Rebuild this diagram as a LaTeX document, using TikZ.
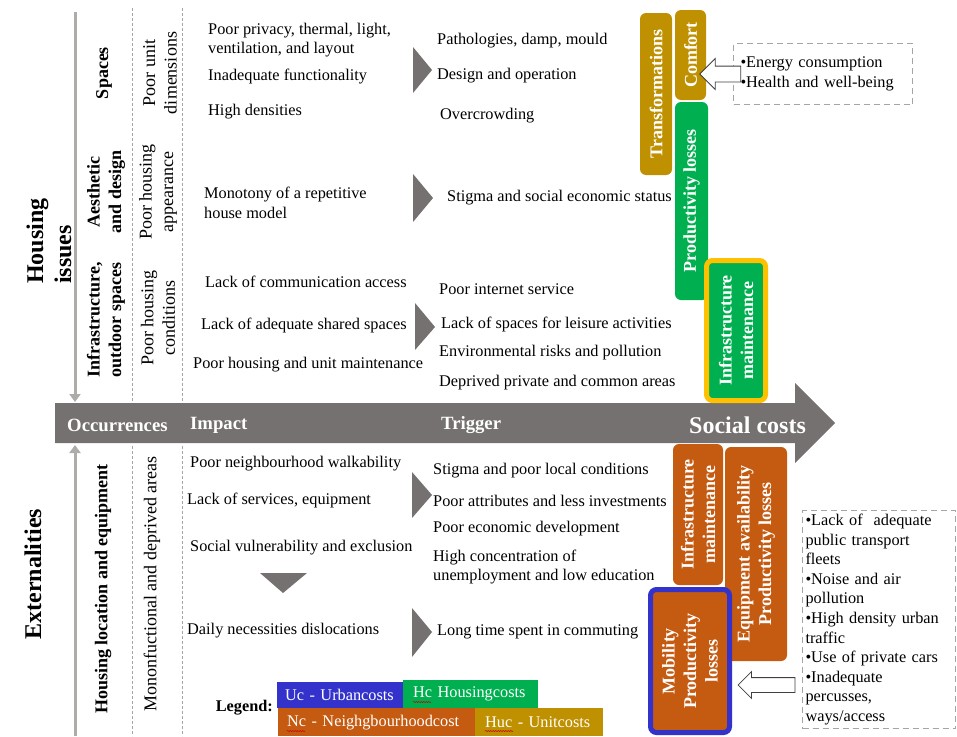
\documentclass[tikz,border=0pt]{standalone}
\usepackage{fontspec}
\setmainfont{Liberation Serif}
\usetikzlibrary{arrows.meta,shapes.arrows,decorations.pathmorphing}

\definecolor{bargray}{RGB}{118,113,113}
\definecolor{axisgray}{RGB}{175,171,171}
\definecolor{sepgray}{RGB}{165,165,165}
\definecolor{costgold}{RGB}{191,144,0}
\definecolor{costgreen}{RGB}{0,176,80}
\definecolor{costorange}{RGB}{197,90,17}
\definecolor{costyellow}{RGB}{255,192,0}
\definecolor{costblue}{RGB}{51,51,204}

\tikzset{
  txt/.style={anchor=west,inner sep=0pt,align=left,font=\fontsize{16.3}{19.6}\selectfont},
  bartxt/.style={anchor=west,inner sep=0pt,text=white,font=\fontsize{18.7}{22}\selectfont\bfseries},
  colname/.style={rotate=90,inner sep=0pt,align=center,font=\fontsize{18}{21.5}\selectfont},
  colhead/.style={colname,font=\fontsize{18}{21.5}\selectfont\bfseries},
  sidetitle/.style={rotate=90,inner sep=0pt,align=left,font=\fontsize{24}{28}\selectfont\bfseries},
  costbox/.style={rotate=90,rounded corners=6pt,inner sep=0pt,align=center,text=white,font=\fontsize{18}{21.5}\selectfont\bfseries},
  dashbox/.style={draw=sepgray,dash pattern=on 6pt off 4pt,line width=1pt,inner ysep=0pt,align=left,anchor=north west,font=\fontsize{16.3}{19.6}\selectfont},
  hollow/.style={single arrow,draw=black!75,fill=white,line width=0.8pt,rotate=180,anchor=tip,inner sep=0pt},
  legbox/.style={anchor=north west,inner ysep=0pt,align=left,text=white,font=\fontsize{16.3}{19.6}\selectfont},
  squiggle/.style={draw=red!80!black,line width=0.5pt,decorate,decoration={snake,amplitude=0.6pt,segment length=2.5pt}},
  tri/.style={fill=bargray},
  sidearrow/.style={draw=axisgray,line width=3pt,-{Triangle[width=11pt,length=8pt]}},
  colsep/.style={draw=sepgray,line width=0.8pt,dash pattern=on 3pt off 2pt}
}

\begin{document}
\begin{tikzpicture}[x=1pt,y=-1pt]
	\useasboundingbox (0,0) rectangle (957,736);

	% axes and column separators
	\draw[sidearrow](75,12)--(75,402);
	\draw[sidearrow](75,736)--(75,445);
	\draw[colsep](132,8)--(132,401);
	\draw[colsep](182,8)--(182,401);
	\draw[colsep](132,446)--(132,736);
	\draw[colsep](182,446)--(182,736);

	% main bar
	\fill[bargray](55,403)--(795,403)--(795,383)--(835,423)--(795,463)--(795,443)--(55,443)--cycle;
	\node[bartxt] (occ) at (67,425) {Occurrences};
	\node[bartxt] (impact) at (190,425) {Impact};
	\node[bartxt] (trigger) at (441,425) {Trigger};
	\node[bartxt,font=\fontsize{24}{28}\selectfont\bfseries] (social) at (689,425) {Social costs};

	% side titles
	\node[sidetitle,anchor=west] (housing) at (49,284) {Housing\\issues};
	\node[sidetitle] (extern) at (33,574) {Externalities};

	% occurrences
	\node[colhead] (spaces) at (104,73) {Spaces};
	\node[colhead] (aesth) at (106,192) {Aesthetic\\and design};
	\node[colhead] (infra) at (106,320) {Infrastructure,\\outdoor spaces};
	\node[colname] (unitdim) at (160,73) {Poor unit\\dimensions};
	\node[colname] (appear) at (158,192) {Poor housing\\appearance};
	\node[colname] (cond) at (158,318) {Poor housing\\conditions};
	\node[colhead] (location) at (103,589) {Housing location and equipment};
	\node[colname] (mono) at (152,584) {Mononfuctional and deprived areas};

	% impacts, housing issues
	\node[txt] (privacy) at (208,40) {Poor privacy, thermal, light,\\ventilation, and layout};
	\node[txt] (funct) at (208,77) {Inadequate functionality};
	\node[txt] (dens) at (208,112) {High densities};
	\node[txt] (monot) at (204,203) {Monotony of a repetitive\\house model};
	\node[txt] (comm) at (205,282) {Lack of communication access};
	\node[txt] (shared) at (201,325) {Lack of adequate shared spaces};
	\node[txt] (maint) at (193,365) {Poor housing and unit maintenance};

	% triggers, housing issues
	\node[txt] (patho) at (437,41) {Pathologies, damp, mould};
	\node[txt] (design) at (437,76) {Design and operation};
	\node[txt] (crowd) at (440,116) {Overcrowding};
	\node[txt] (stigma) at (447,198) {Stigma and social economic status};
	\node[txt] (internet) at (439,289) {Poor internet service};
	\node[txt] (leisure) at (441,324) {Lack of spaces for leisure activities};
	\node[txt] (envir) at (439,353) {Environmental risks and pollution};
	\node[txt] (deprived) at (439,383) {Deprived private and common areas};

	% impacts, externalities
	\node[txt] (walk) at (190,464) {Poor neighbourhood walkability};
	\node[txt] (serv) at (187,500) {Lack of services, equipment};
	\node[txt] (vuln) at (190,548) {Social vulnerability and exclusion};
	\node[txt] (daily) at (187,631) {Daily necessities dislocations};

	% triggers, externalities
	\node[txt] (local) at (433,471) {Stigma and poor local conditions};
	\node[txt] (attrib) at (433,501) {Poor attributes and less investments};
	\node[txt] (econ) at (433,529) {Poor economic development};
	\node[txt] (unempl) at (433,567) {High concentration of\\unemployment and low education};
	\node[txt] (commute) at (437,632) {Long time spent in commuting};

	% triangles
	\fill[tri](413,47)--(432,70)--(413,93)--cycle;
	\fill[tri](413,174)--(433,198)--(413,222)--cycle;
	\fill[tri](415,303)--(435,327)--(415,350)--cycle;
	\fill[tri](412,472)--(432,495)--(412,518)--cycle;
	\fill[tri](412,608)--(432,632)--(412,657)--cycle;
	\fill[tri](260,573)--(307,573)--(283,593)--cycle;

	% social costs
	\node[costbox,fill=costgold,minimum width=162pt,minimum height=32pt] (trans) at (656,94) {Transformations};
	\node[costbox,fill=costgold,minimum width=90pt,minimum height=31pt] (comfort) at (690.5,55) {Comfort};
	\node[costbox,fill=costgreen,minimum width=198pt,minimum height=33pt] (prodloss) at (691.5,201) {Productivity losses};
	\node[costbox,fill=costgreen,draw=costyellow,line width=5pt,minimum width=140pt,minimum height=59pt] (infmaint) at (736,330.5) {Infrastructure\\maintenance};
	\node[costbox,fill=costorange,minimum width=141pt,minimum height=50pt] (extmaint) at (698,514.5) {Infrastructure\\maintenance};
	\node[costbox,fill=costorange,minimum width=214pt,minimum height=62pt] (equip) at (756,554) {Equipment availability\\Productivity losses};
	\node[costbox,fill=costorange,draw=costblue,line width=5pt,minimum width=143pt,minimum height=79pt] (mobility) at (690,661) {Mobility\\Productivity\\losses};

	% notes
	\node[dashbox,minimum width=179pt,minimum height=61pt,text width=165pt,inner xsep=7pt] (energy) at (733,43) {•Energy consumption\\•Health and well-being};
	\node[dashbox,minimum width=153pt,minimum height=218pt,text width=147pt,inner xsep=3pt] (transport) at (802,510) {•Lack of~ adequate\\public transport\\fleets\\•Noise and air\\pollution\\•High density urban\\traffic\\•Use of private cars\\•Inadequate\\percusses,\\ways/access};
	\path (comfort.south |- energy.west) ++(-7,0) coordinate (etip);
	\node[hollow,minimum height=41pt,single arrow head extend=7.5pt] (earrow) at (etip) {\rule{0pt}{15pt}};
	\path (mobility.south) ++(5.5,24) coordinate (mtip);
	\node[hollow,minimum height=57pt,single arrow head extend=6pt] (marrow) at (mtip) {\rule{0pt}{14pt}};

	% legend
	\node[legbox,fill=costblue,minimum height=26pt,text width=110pt,inner xsep=8pt] (uc) at (277,682) {\mbox{Uc - Urbancosts}};
	\node[legbox,fill=costgreen,minimum height=28pt,text width=115pt,inner xsep=10pt] (hc) at (403,680) {\mbox{Hc Housingcosts}};
	\node[legbox,fill=costorange,minimum height=28pt,text width=179pt,inner xsep=9pt] (nc) at (278,708) {\mbox{Nc - Neighgbourhoodcost}};
	\node[legbox,fill=costgold,minimum height=28pt,text width=108pt,inner xsep=10pt] (huc) at (475,708) {\mbox{Huc - Unitcosts}};
	\node[txt,anchor=east,font=\fontsize{16.3}{19.6}\selectfont\bfseries] (legend) at (273,708) {Legend:};
	\draw[squiggle](413,702)--(431,702);
	\draw[squiggle](287,731)--(305,731);
	\draw[squiggle](485,731)--(513,731);
\end{tikzpicture}
\end{document}
